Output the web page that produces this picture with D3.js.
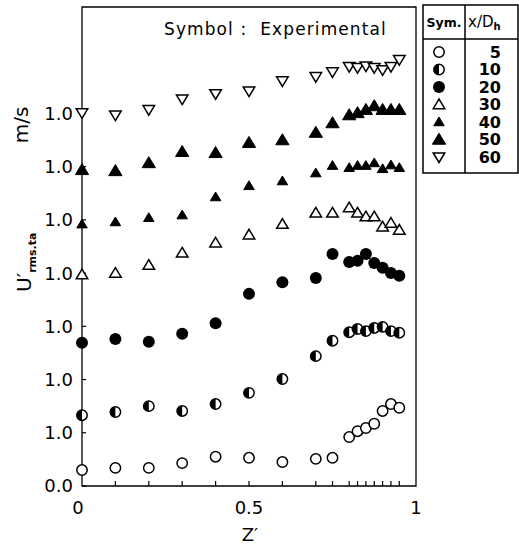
<!DOCTYPE html>
<html><head><meta charset="utf-8">
<script src="https://cdn.jsdelivr.net/npm/d3@7"></script>
<style>body{margin:0;background:#fff}svg{display:block}</style>
</head><body>
<script>
// ---- data ----
const zValues = [0,0.1,0.2,0.3,0.4,0.5,0.6,0.7,0.75,0.8,0.825,0.85,0.875,0.9,0.925,0.95];
const yTickValues = [0,1,2,3,4,5,6,7];
const yTickLabels = ["0.0","1.0","1.0","1.0","1.0","1.0","1.0","1.0"];
const xTickLabels = [{v:0,t:"0"},{v:0.5,t:"0.5"},{v:1,t:"1"}];
const seriesNames = ["5","10","20","30","40","50","60"];
const s5  = [0.30,0.34,0.34,0.43,0.55,0.53,0.45,0.51,0.53,0.92,1.03,1.09,1.17,1.41,1.54,1.47];
const s10 = [1.33,1.39,1.50,1.41,1.54,1.75,2.01,2.44,2.73,2.89,2.95,2.91,2.97,2.99,2.91,2.88];
const s20 = [2.69,2.76,2.71,2.86,3.06,3.61,3.83,3.91,4.36,4.21,4.23,4.36,4.19,4.10,4.00,3.95];
const s30 = [3.97,4.00,4.15,4.38,4.57,4.72,4.92,5.13,5.13,5.23,5.13,5.06,5.06,4.87,4.94,4.81];
const s40 = [4.92,4.96,5.04,5.09,5.43,5.64,5.73,5.88,6.02,5.98,6.02,6.02,6.07,5.96,6.03,5.98];
const s50 = [5.94,5.92,6.07,6.28,6.26,6.45,6.50,6.64,6.82,6.97,7.01,7.07,7.14,7.07,7.07,7.07];
const s60 = [7.01,6.97,7.07,7.27,7.37,7.42,7.61,7.69,7.78,7.88,7.86,7.89,7.86,7.82,7.88,8.01];
const allSeries = [s5,s10,s20,s30,s40,s50,s60];
const symbolTypes = ["circleOpen","circleHalf","circleFilled","triOpen","triSmallFilled","triFilled","triDownOpen"];

// ---- layout ----
const W = 519, H = 547;
const svg = d3.select("body").append("svg").attr("width",W).attr("height",H);
const x = d3.scaleLinear().domain([0,1]).range([82,416]);
const y = d3.scaleLinear().domain([0,9]).range([486,7]);
const font = "'DejaVu Sans', Verdana, sans-serif";

// frame
const g = svg.append("g");
g.append("path").attr("d",`M${x(0)},${y(0)}H${x(1)}V${y(9)}H${x(0)}Z`)
  .attr("fill","none").attr("stroke","#000").attr("stroke-width",1.3);

// y ticks (inward)
g.selectAll(".yt").data(yTickValues).join("line")
  .attr("x1",x(0)).attr("x2",x(0)+4).attr("y1",d=>y(d)).attr("y2",d=>y(d))
  .attr("stroke","#000").attr("stroke-width",1.2);
g.selectAll(".yl").data(yTickValues).join("text")
  .attr("x",x(0)-9).attr("y",d=>y(d)).attr("dy","0.36em")
  .attr("text-anchor","end").attr("font-family",font).attr("font-size",18)
  .text((d,i)=>yTickLabels[i]);

// x ticks (inward, at measurement stations)
g.selectAll(".xt").data(zValues.slice(1)).join("line")
  .attr("x1",d=>x(d)).attr("x2",d=>x(d)).attr("y1",y(0)).attr("y2",y(0)-5)
  .attr("stroke","#000").attr("stroke-width",1.2);
g.selectAll(".xl").data(xTickLabels).join("text")
  .attr("x",d=>x(d.v)-(d.v===0?4:0)).attr("y",y(0)+28)
  .attr("text-anchor","middle").attr("font-family",font).attr("font-size",18)
  .text(d=>d.t);

// axis titles
svg.append("text").attr("x",250).attr("y",541).attr("text-anchor","middle")
  .attr("font-family",font).attr("font-size",18).text("Z\u2032");
svg.append("text").attr("transform","translate(28,125) rotate(-90)")
  .attr("text-anchor","middle").attr("font-family",font).attr("font-size",20).text("m/s");
const yl = svg.append("text").attr("transform","translate(31,292) rotate(-90)")
  .attr("font-family",font).attr("font-size",20);
yl.append("tspan").text("U\u2032");
yl.append("tspan").attr("font-size",11).attr("font-weight","bold").attr("dy",5).text("rms.ta");

// title text
svg.append("text").attr("x",164).attr("y",35).attr("font-family",font).attr("font-size",17)
  .attr("letter-spacing",1.1).style("white-space","pre")
  .text("Symbol :  Experimental");

// ---- markers ----
function drawMarker(sel, type){
  const r = 5.2;
  if(type==="circleOpen"){
    sel.append("circle").attr("r",r).attr("fill","#fff").attr("stroke","#000").attr("stroke-width",1.5);
  } else if(type==="circleFilled"){
    sel.append("circle").attr("r",6).attr("fill","#000");
  } else if(type==="circleHalf"){
    sel.append("circle").attr("r",r).attr("fill","#fff").attr("stroke","#000").attr("stroke-width",1.5);
    sel.append("path").attr("d",`M0,${-r}A${r},${r} 0 0 0 0,${r}Z`).attr("fill","#000");
  } else if(type==="triOpen"){
    const s=5.5;
    sel.append("path").attr("d",`M0,${-s}L${s*1.05},${s*0.75}L${-s*1.05},${s*0.75}Z`)
      .attr("fill","#fff").attr("stroke","#000").attr("stroke-width",1.5);
  } else if(type==="triSmallFilled"){
    const s=5;
    sel.append("path").attr("d",`M0,${-s}L${s*1.05},${s*0.75}L${-s*1.05},${s*0.75}Z`)
      .attr("fill","#000").attr("stroke","#000").attr("stroke-width",1);
  } else if(type==="triFilled"){
    const s=6.3;
    sel.append("path").attr("d",`M0,${-s}L${s*1.05},${s*0.75}L${-s*1.05},${s*0.75}Z`)
      .attr("fill","#000").attr("stroke","#000").attr("stroke-width",1);
  } else if(type==="triDownOpen"){
    const s=5.5;
    sel.append("path").attr("d",`M0,${s}L${s*1.05},${-s*0.75}L${-s*1.05},${-s*0.75}Z`)
      .attr("fill","#fff").attr("stroke","#000").attr("stroke-width",1.5);
  }
}

allSeries.forEach((vals,si)=>{
  const pts = svg.append("g").selectAll("g").data(vals.map((v,i)=>({z:zValues[i],v})))
    .join("g").attr("transform",d=>`translate(${x(d.z)},${y(d.v)})`);
  pts.each(function(){ drawMarker(d3.select(this), symbolTypes[si]); });
});

// ---- legend table ----
const lg = svg.append("g");
const lx0=423, lx1=518, lxm=465, ly0=5, ly1=173, lyh=39;
lg.append("rect").attr("x",lx0).attr("y",ly0).attr("width",lx1-lx0).attr("height",ly1-ly0)
  .attr("fill","none").attr("stroke","#000").attr("stroke-width",1.5);
lg.append("line").attr("x1",lx0).attr("x2",lx1).attr("y1",lyh).attr("y2",lyh).attr("stroke","#000").attr("stroke-width",1.5);
lg.append("line").attr("x1",lxm).attr("x2",lxm).attr("y1",ly0).attr("y2",ly1).attr("stroke","#000").attr("stroke-width",1.5);
lg.append("text").attr("x",444).attr("y",27).attr("text-anchor","middle").attr("font-family",font)
  .attr("font-size",12.5).attr("font-weight","bold").text("Sym.");
const hd = lg.append("text").attr("x",468).attr("y",27).attr("font-family",font)
  .attr("font-size",15);
hd.append("tspan").text("x/D");
hd.append("tspan").attr("font-size",10).attr("font-weight","bold").attr("dy",3).text("h");
const rowY = d3.scaleLinear().domain([0,6]).range([52,157]);
seriesNames.forEach((nm,i)=>{
  const gg = lg.append("g").attr("transform",`translate(439,${rowY(i)})`);
  drawMarker(gg, symbolTypes[i]);
  lg.append("text").attr("x",501).attr("y",rowY(i)).attr("dy","0.36em").attr("text-anchor","end")
    .attr("font-family",font).attr("font-size",16).attr("font-weight","bold").text(nm);
});
</script>
</body></html>
